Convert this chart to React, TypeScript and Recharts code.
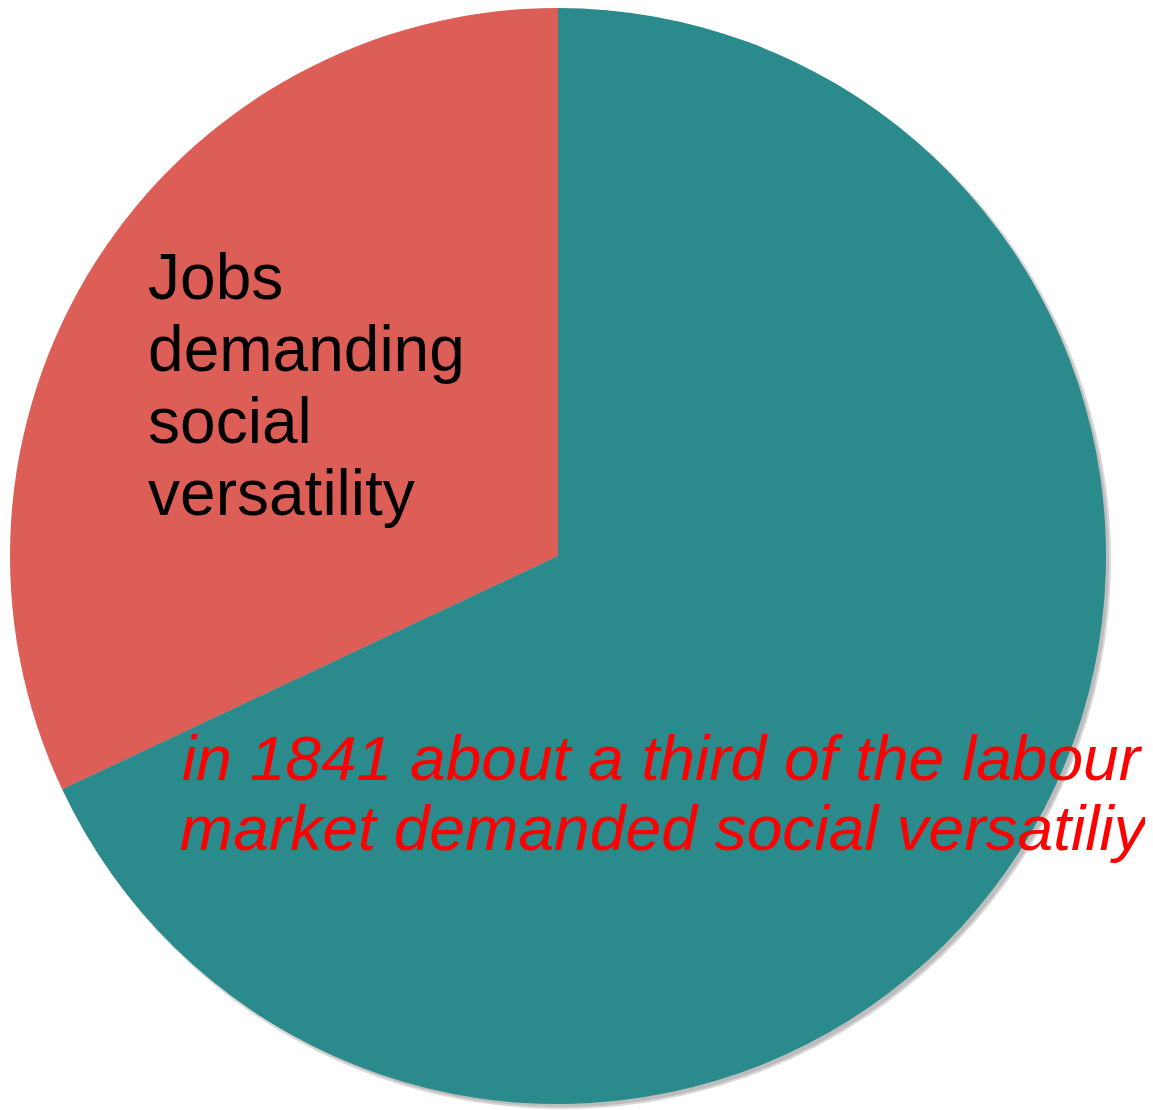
import React from "react";
import { PieChart, Pie, Cell } from "recharts";

// share of the 1841 labour market
const categories = ["Jobs demanding social versatility", "Other jobs"];
const shares = [32, 68];
const colors = ["#DC5E56", "#2A8A8C"];

const sliceLabel = ["Jobs", "demanding", "social", "versatility"];
const noteLines = [
  "in 1841 about a third of the labour",
  "market demanded social versatiliy",
];

const data = categories.map((name, i) => ({ name, value: shares[i] }));

const FONT = "'Liberation Sans', Arial, sans-serif";

const renderLabel = (props: any) => {
  const { cx, cy, outerRadius, index } = props;
  const r = outerRadius;
  if (index === 0) {
    // black label inside the red slice
    return (
      <text x={cx - r * 0.748} y={cy - r * 0.469} fill="#000" fontSize={64} fontFamily={FONT}>
        {sliceLabel.map((line, i) => (
          <tspan key={line} x={cx - r * 0.748} dy={i === 0 ? 0 : 72}>
            {line}
          </tspan>
        ))}
      </text>
    );
  }
  // red italic note over the teal slice
  return (
    <g>
      <text
        x={cx - r * 0.686}
        y={cy + r * 0.409}
        fill="#FF0000"
        fontSize={63}
        fontStyle="italic"
        fontFamily={FONT}
        textLength={958}
        lengthAdjust="spacingAndGlyphs"
      >
        {noteLines[0]}
      </text>
      <text
        x={cx - r * 0.69}
        y={cy + r * 0.537}
        fill="#FF0000"
        fontSize={63}
        fontStyle="italic"
        fontFamily={FONT}
        textLength={966}
        lengthAdjust="spacingAndGlyphs"
      >
        {noteLines[1]}
      </text>
    </g>
  );
};

export default function App() {
  return (
    <div style={{ width: 1145, height: 1102, background: "#fff" }}>
      <PieChart width={1145} height={1102} margin={{ top: 0, right: 0, bottom: 0, left: 0 }}>
        {/* soft grey shadow under the pie */}
        <Pie
          data={data}
          dataKey="value"
          cx={554}
          cy={552}
          outerRadius={548}
          startAngle={90}
          endAngle={450}
          stroke="#d8d8d8"
          strokeWidth={2}
          fill="#bdbdbd"
          isAnimationActive={false}
          legendType="none"
        />
        <Pie
          data={data}
          dataKey="value"
          cx={550}
          cy={548}
          outerRadius={548}
          startAngle={90}
          endAngle={450}
          stroke="none"
          label={renderLabel}
          labelLine={false}
          isAnimationActive={false}
        >
          {data.map((d, i) => (
            <Cell key={d.name} fill={colors[i]} />
          ))}
        </Pie>
      </PieChart>
    </div>
  );
}
